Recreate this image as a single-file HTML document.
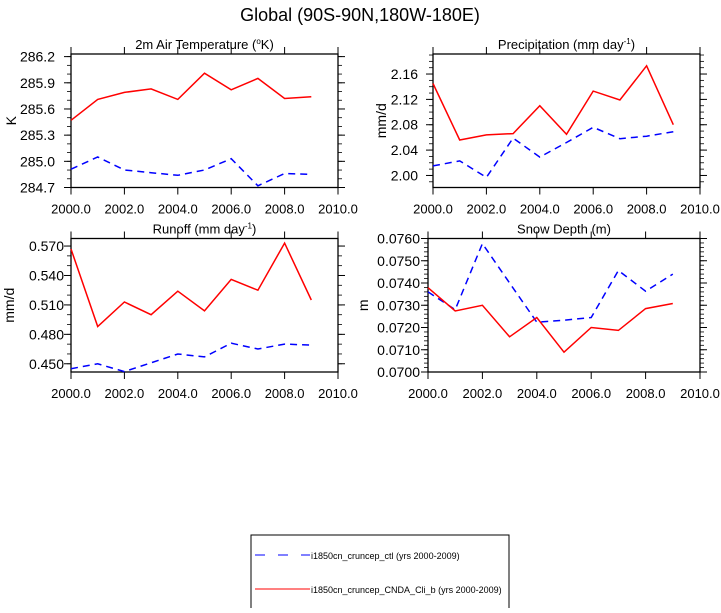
<!DOCTYPE html>
<html><head><meta charset="utf-8"><style>
body{margin:0;background:#fff;width:721px;height:608px;overflow:hidden;font-family:"Liberation Sans",sans-serif}
svg text{font-family:"Liberation Sans",sans-serif;fill:#000}
</style></head><body>
<svg id="chart" width="721" height="608">
<text x="360" y="21" text-anchor="middle" font-size="18">Global (90S-90N,180W-180E)</text>
<g>
<rect x="251" y="535" width="258" height="80" fill="none" stroke="#000" stroke-width="1"/>
<line x1="255" y1="555" x2="310" y2="555" stroke="#00f" stroke-width="1" stroke-dasharray="10,13"/>
<text x="311" y="559" font-size="9">i1850cn_cruncep_ctl (yrs 2000-2009)</text>
<line x1="255" y1="589" x2="310" y2="589" stroke="#f00" stroke-width="1"/>
<text x="311" y="593" font-size="9">i1850cn_cruncep_CNDA_Cli_b (yrs 2000-2009)</text>
</g>
</svg>
<script>
const years=[2000,2001,2002,2003,2004,2005,2006,2007,2008,2009];
const xTicks=[2000,2002,2004,2006,2008,2010];
const tempRed=[285.47,285.71,285.79,285.83,285.71,286.01,285.82,285.95,285.72,285.74];
const tempBlue=[284.91,285.05,284.90,284.87,284.84,284.90,285.03,284.72,284.86,284.85];
const tempTicks=[284.7,285.0,285.3,285.6,285.9,286.2];
const precRed=[2.145,2.056,2.064,2.066,2.110,2.065,2.133,2.119,2.173,2.080];
const precBlue=[2.015,2.023,1.997,2.059,2.029,2.052,2.076,2.058,2.062,2.069];
const precTicks=[2.00,2.04,2.08,2.12,2.16];
const runRed=[0.567,0.488,0.513,0.500,0.524,0.504,0.536,0.525,0.573,0.515];
const runBlue=[0.445,0.450,0.442,0.451,0.460,0.457,0.471,0.465,0.470,0.469];
const runTicks=[0.450,0.480,0.510,0.540,0.570];
const snowRed=[0.07379,0.07274,0.07300,0.07158,0.07245,0.07089,0.07200,0.07187,0.07285,0.07308];
const snowBlue=[0.07360,0.07280,0.07577,0.07400,0.07224,0.07233,0.07245,0.07456,0.07363,0.07440];
const snowTicks=[0.0700,0.0710,0.0720,0.0730,0.0740,0.0750,0.0760];

const NS="http://www.w3.org/2000/svg";
const svg=document.getElementById('chart');
function mk(tag,attrs,parent){const e=document.createElementNS(NS,tag);for(const k in attrs)e.setAttribute(k,attrs[k]);(parent||svg).appendChild(e);return e;}

const panels=[
 {key:'temp',title:'2m Air Temperature (',sup:'o',tail:'K)',yl:'K',ylx:6,gap:16,l:71,r:338,t:54,b:187.5,ymin:284.7,ymax:286.23,ticks:tempTicks,dec:1,minor:3,red:tempRed,blue:tempBlue},
 {key:'precip',title:'Precipitation (mm day',sup:'-1',tail:')',yl:'mm/d',ylx:376,gap:15,l:433,r:700,t:54,b:187.5,ymin:1.981,ymax:2.1916,ticks:precTicks,dec:2,minor:4,red:precRed,blue:precBlue},
 {key:'runoff',title:'Runoff (mm day',sup:'-1',tail:')',yl:'mm/d',ylx:4,gap:7,l:71,r:338,t:238.5,b:372,ymin:0.4416,ymax:0.5777,ticks:runTicks,dec:3,minor:3,red:runRed,blue:runBlue},
 {key:'snow',title:'Snow Depth (m)',sup:null,tail:'',yl:'m',ylx:358,gap:8,l:428,r:700,t:238.5,b:372,ymin:0.0700,ymax:0.0760,ticks:snowTicks,dec:4,minor:5,red:snowRed,blue:snowBlue}
];
panels.forEach(p=>{
 const g=mk('g',{});
 
 
 const sx=v=>p.l+(v-2000)/10*(p.r-p.l);
 const sy=v=>p.b-(v-p.ymin)/(p.ymax-p.ymin)*(p.b-p.t);
 const box=mk('rect',{x:p.l,y:p.t,width:p.r-p.l,height:p.b-p.t,fill:'none',stroke:'#000','stroke-width':1.3},g);
 
 
 const tt=mk('text',{x:(p.l+p.r)/2,y:p.t-5,'text-anchor':'middle','font-size':13},g);
 tt.textContent=p.title;
 if(p.sup){const s=mk('tspan',{dy:-5,'font-size':8},tt);s.textContent=p.sup;const s2=mk('tspan',{dy:5},tt);s2.textContent=p.tail;}
 
 
 xTicks.forEach(v=>{
  const x=sx(v);
  mk('line',{x1:x,y1:p.b,x2:x,y2:p.b+7,stroke:'#000'},g);
  mk('line',{x1:x,y1:p.t-7,x2:x,y2:p.t,stroke:'#000'},g);
  const tx=mk('text',{x:x,y:p.b+26,'text-anchor':'middle','font-size':13},g);
  tx.textContent=v.toFixed(1);
  
  
 });
 const step=p.ticks[1]-p.ticks[0];
 p.ticks.forEach(v=>{
  const y=sy(v);
  mk('line',{x1:p.l-7,y1:y,x2:p.l,y2:y,stroke:'#000'},g);
  mk('line',{x1:p.r,y1:y,x2:p.r+7,y2:y,stroke:'#000'},g);
  const ty=mk('text',{x:p.l-p.gap,y:y+5,'text-anchor':'end','font-size':14},g);
  ty.textContent=v.toFixed(p.dec);
  
  
 });
 const ms=step/p.minor;
 for(let v=p.ticks[0]-step;v<=p.ymax+1e-9;v+=ms){
  if(v<p.ymin-1e-9)continue;const y=sy(v);
  mk('line',{x1:p.l-4,y1:y,x2:p.l,y2:y,stroke:'#000','stroke-width':0.8},g);
  mk('line',{x1:p.r,y1:y,x2:p.r+4,y2:y,stroke:'#000','stroke-width':0.8},g);
 }
 const yl=mk('text',{x:0,y:0,'text-anchor':'middle','font-size':14,transform:`translate(${p.ylx+10},${(p.t+p.b)/2}) rotate(-90)`},g);
 yl.textContent=p.yl;
 
 
 const line=(arr,col,dash,name)=>{
  const pts=arr.map((v,i)=>sx(years[i]).toFixed(1)+','+sy(v).toFixed(1)).join(' ');
  const pl=mk('polyline',{points:pts,fill:'none',stroke:col,'stroke-width':1.5},g);
  if(dash)pl.setAttribute('stroke-dasharray',dash);
  
  
 };
 line(p.blue,'#00f','7,5',p.key+'-ctl-line');
 line(p.red,'#f00',null,p.key+'-cnda-line');
});
</script>
</body></html>
